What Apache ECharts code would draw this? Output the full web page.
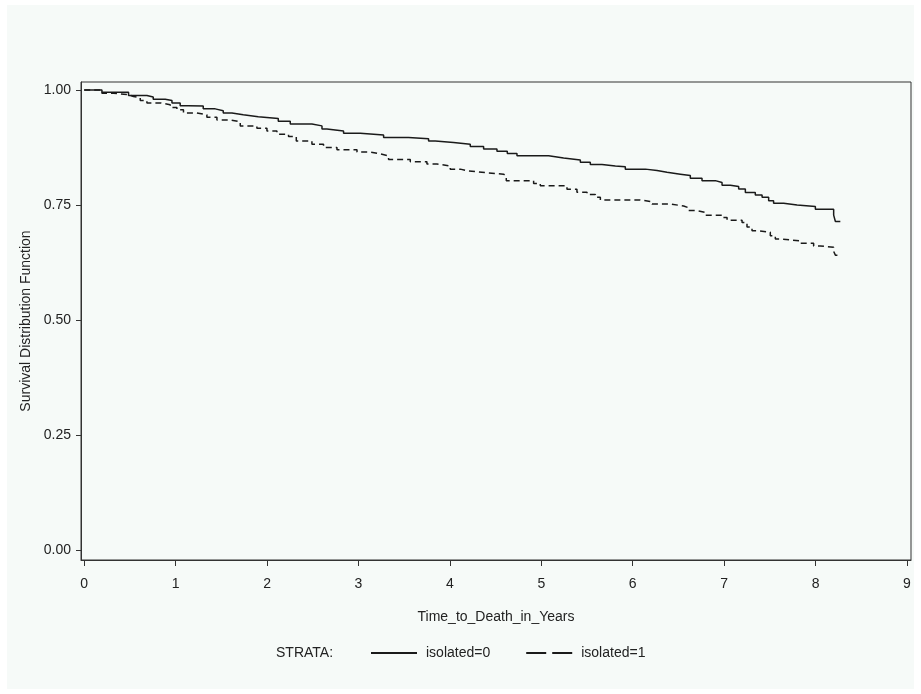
<!DOCTYPE html>
<html>
<head>
<meta charset="utf-8">
<script src="https://cdn.jsdelivr.net/npm/echarts@6/dist/echarts.min.js"></script>
<style>
  html, body { margin: 0; padding: 0; background: #ffffff; }
  #chart { position: absolute; left: 7px; top: 5px; width: 907px; height: 684px; background: #f6faf8; }
</style>
</head>
<body>
<div id="chart"></div>
<script>
// Kaplan-Meier estimates: [time in years, survival]
const isolated0 = [
  [0.000, 1.000], [0.194, 0.995], [0.485, 0.988], [0.686, 0.985], [0.755, 0.980],
  [0.886, 0.977], [0.960, 0.972], [1.050, 0.966], [1.138, 0.965], [1.302, 0.959],
  [1.433, 0.955], [1.521, 0.950], [1.616, 0.946], [1.740, 0.942], [1.904, 0.938],
  [2.123, 0.932], [2.254, 0.926], [2.491, 0.922], [2.601, 0.915], [2.655, 0.911],
  [2.837, 0.906], [3.020, 0.902], [3.275, 0.897], [3.548, 0.894], [3.767, 0.889],
  [3.840, 0.886], [4.040, 0.882], [4.223, 0.877], [4.369, 0.872], [4.515, 0.867],
  [4.628, 0.862], [4.734, 0.857], [5.080, 0.855], [5.153, 0.852], [5.244, 0.848],
  [5.427, 0.843], [5.536, 0.838], [5.664, 0.835], [5.810, 0.833], [5.919, 0.828],
  [6.138, 0.825], [6.266, 0.821], [6.375, 0.817], [6.521, 0.814], [6.630, 0.808],
  [6.758, 0.803], [6.904, 0.799], [6.977, 0.793], [7.068, 0.790], [7.159, 0.785],
  [7.232, 0.777], [7.341, 0.772], [7.415, 0.767], [7.487, 0.759], [7.541, 0.754],
  [7.651, 0.750], [7.798, 0.747], [7.998, 0.741], [8.198, 0.728], [8.217, 0.714],
  [8.271, 0.714]
];
const isolated1 = [
  [0.000, 1.000], [0.194, 0.993], [0.321, 0.990], [0.485, 0.986], [0.539, 0.983],
  [0.613, 0.977], [0.686, 0.972], [0.832, 0.968], [0.941, 0.962], [1.014, 0.957],
  [1.086, 0.950], [1.233, 0.946], [1.342, 0.941], [1.452, 0.935], [1.597, 0.931],
  [1.707, 0.922], [1.889, 0.917], [1.999, 0.911], [2.108, 0.904], [2.235, 0.899],
  [2.320, 0.889], [2.491, 0.882], [2.618, 0.875], [2.765, 0.870], [2.984, 0.865],
  [3.129, 0.861], [3.239, 0.857], [3.329, 0.849], [3.567, 0.844], [3.749, 0.839],
  [3.859, 0.835], [4.004, 0.828], [4.114, 0.824], [4.204, 0.820], [4.406, 0.817],
  [4.587, 0.813], [4.617, 0.803], [4.916, 0.797], [4.989, 0.792], [5.281, 0.784],
  [5.390, 0.778], [5.500, 0.773], [5.591, 0.767], [5.646, 0.761], [6.083, 0.757],
  [6.211, 0.752], [6.411, 0.748], [6.557, 0.744], [6.612, 0.738], [6.703, 0.734],
  [6.794, 0.728], [6.977, 0.723], [7.032, 0.717], [7.196, 0.712], [7.250, 0.702],
  [7.305, 0.694], [7.378, 0.691], [7.505, 0.683], [7.560, 0.676], [7.633, 0.672],
  [7.834, 0.667], [7.979, 0.661], [8.053, 0.658], [8.198, 0.649], [8.217, 0.641],
  [8.271, 0.641]
];
const seriesNames = ['isolated=0', 'isolated=1'];
const xTicks = [0, 1, 2, 3, 4, 5, 6, 7, 8, 9];
const yTicks = [0, 0.25, 0.5, 0.75, 1];
const xTitle = 'Time_to_Death_in_Years';
const yTitle = 'Survival Distribution Function';
const legendTitle = 'STRATA:';

const FONT = '"Liberation Sans", Arial, sans-serif';
const INK = '#222222';
const FS = 14;
const chart = echarts.init(document.getElementById('chart'));
chart.setOption({
  animation: false,
  backgroundColor: '#f6faf8',
  grid: {
    left: 74, top: 77, right: 3, bottom: 129,
    show: true, borderColor: '#333', borderWidth: 1, backgroundColor: '#f6faf8'
  },
  xAxis: {
    type: 'value', min: -0.035, max: 9.044,
    name: xTitle, nameLocation: 'middle', nameGap: 50,
    nameTextStyle: { fontFamily: FONT, fontSize: FS, color: INK },
    axisLine: { show: true, onZero: false, lineStyle: { color: '#333', width: 1 } },
    axisTick: { show: true, inside: false, length: 6, customValues: xTicks, lineStyle: { color: '#333' } },
    axisLabel: { customValues: xTicks, margin: 17, fontFamily: FONT, fontSize: FS, color: INK,
      formatter: v => String(Math.round(v)) },
    splitLine: { show: false }
  },
  yAxis: {
    type: 'value', min: -0.0217, max: 1.0174,
    name: yTitle, nameLocation: 'middle', nameGap: 48, nameRotate: 90,
    nameTextStyle: { fontFamily: FONT, fontSize: FS, color: INK },
    axisLine: { show: true, onZero: false, lineStyle: { color: '#333', width: 1 } },
    axisTick: { show: true, inside: false, length: 5, customValues: yTicks, lineStyle: { color: '#333' } },
    axisLabel: { customValues: yTicks, margin: 10, fontFamily: FONT, fontSize: FS, color: INK,
      formatter: v => v.toFixed(2) },
    splitLine: { show: false }
  },
  legend: {
    show: true, left: 358, top: 636, itemWidth: 46, itemHeight: 14, itemGap: 35,
    textStyle: { fontFamily: FONT, fontSize: FS, color: INK, padding: [0, 0, 0, 4] },
    itemStyle: { opacity: 0 },
    data: [
      { name: seriesNames[0] },
      { name: seriesNames[1], lineStyle: { type: [20, 6] } }
    ]
  },
  graphic: [{
    type: 'text', left: 269, top: 641,
    style: { text: legendTitle, fontFamily: FONT, fontSize: FS, fill: INK }
  }],
  series: [
    {
      name: seriesNames[0], type: 'line', step: 'end', data: isolated0,
      symbol: 'none', lineStyle: { color: '#1a1a1a', width: 1.5, type: 'solid' },
      itemStyle: { color: '#1a1a1a' }
    },
    {
      name: seriesNames[1], type: 'line', step: 'end', data: isolated1,
      symbol: 'none', lineStyle: { color: '#1a1a1a', width: 1.5, type: [6, 4] },
      itemStyle: { color: '#1a1a1a' }
    }
  ]
});
</script>
</body>
</html>
